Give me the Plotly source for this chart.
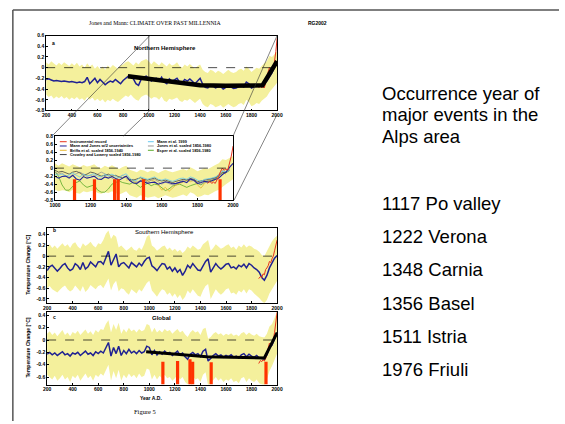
import plotly.graph_objects as go

W, H = 565, 424

# ---------------- data ----------------
years = list(range(200, 2001, 20))  # 91 points, 20-year steps

nh_mj = [
    -0.22, -0.21, -0.23, -0.25, -0.24, -0.25, -0.26, -0.25, -0.26, -0.27,
    -0.26, -0.27, -0.28, -0.27, -0.28, -0.26, -0.18, -0.30, -0.24, -0.20,
    -0.28, -0.22, -0.27, -0.32, -0.28, -0.25, -0.27, -0.22, -0.26, -0.30,
    -0.24, -0.19, -0.16, -0.15, -0.21, -0.30, -0.33, -0.22, -0.18, -0.16,
    -0.20, -0.25, -0.21, -0.20, -0.25, -0.18, -0.27, -0.30, -0.21, -0.25,
    -0.23, -0.20, -0.27, -0.28, -0.22, -0.25, -0.21, -0.26, -0.30, -0.25,
    -0.20, -0.31, -0.37, -0.38, -0.32, -0.34, -0.38, -0.36, -0.35, -0.40,
    -0.37, -0.34, -0.36, -0.39, -0.38, -0.35, -0.33, -0.36, -0.27, -0.30,
    -0.38, -0.36, -0.33, -0.35, -0.31, -0.28, -0.25, -0.16, -0.10, 0.02,
    0.12]
nh_up = [
    0.10, 0.06, 0.12, 0.08, 0.04, 0.09, 0.05, 0.10, 0.06, 0.03,
    0.08, 0.04, 0.09, 0.02, 0.06, 0.00, 0.08, 0.02, 0.06, -0.02,
    0.03, -0.03, 0.02, -0.04, 0.04, 0.00, 0.05, 0.02, -0.02, 0.04,
    0.06, 0.10, 0.12, 0.08, 0.04, 0.10, 0.06, 0.12, 0.14, 0.16,
    0.12, 0.06, 0.12, 0.08, 0.04, 0.10, 0.05, 0.02, 0.08, 0.04,
    0.06, 0.10, 0.03, 0.00, 0.06, 0.02, 0.07, 0.02, -0.02, 0.03,
    0.06, -0.04, -0.08, -0.10, -0.04, -0.06, -0.10, -0.06, -0.08, -0.12,
    -0.08, -0.04, -0.08, -0.10, -0.08, -0.04, -0.02, -0.06, 0.02, -0.02,
    -0.08, -0.04, 0.00, -0.02, 0.04, 0.08, 0.12, 0.22, 0.20, 0.26,
    0.30]
nh_low = [
    -0.50, -0.55, -0.52, -0.58, -0.54, -0.57, -0.53, -0.58, -0.55, -0.60,
    -0.56, -0.59, -0.55, -0.60, -0.57, -0.62, -0.55, -0.60, -0.56, -0.62,
    -0.58, -0.63, -0.59, -0.65, -0.60, -0.63, -0.58, -0.62, -0.64, -0.60,
    -0.56, -0.52, -0.55, -0.50, -0.56, -0.60, -0.62, -0.55, -0.52, -0.50,
    -0.54, -0.58, -0.55, -0.56, -0.60, -0.54, -0.62, -0.64, -0.58, -0.60,
    -0.58, -0.56, -0.62, -0.64, -0.60, -0.62, -0.58, -0.62, -0.66, -0.62,
    -0.58, -0.68, -0.72, -0.74, -0.68, -0.70, -0.74, -0.72, -0.70, -0.75,
    -0.72, -0.68, -0.71, -0.74, -0.72, -0.68, -0.66, -0.70, -0.60, -0.64,
    -0.72, -0.70, -0.66, -0.68, -0.62, -0.58, -0.54, -0.46, -0.40, -0.34,
    -0.28]
nh_trend_years = [837, 1000, 1200, 1400, 1600, 1886, 2000]
nh_trend_vals = [-0.16, -0.21, -0.28, -0.33, -0.34, -0.33, 0.12]

instr_years = [1856, 1870, 1880, 1890, 1900, 1910, 1920, 1930, 1940, 1950, 1960, 1970, 1980, 1990, 2000]
nh_instr = [-0.38, -0.33, -0.38, -0.35, -0.38, -0.30, -0.20, -0.08, 0.00, -0.05, -0.02, -0.05, 0.10, 0.30, 0.55]
sh_instr = [-0.42, -0.38, -0.40, -0.33, -0.35, -0.25, -0.22, -0.18, -0.10, -0.12, -0.05, 0.00, 0.10, 0.20, 0.30]
gl_instr = [-0.38, -0.33, -0.35, -0.32, -0.34, -0.30, -0.22, -0.15, -0.05, -0.08, -0.05, 0.00, 0.12, 0.28, 0.45]

inset_years = years[40:]          # 1000..2000
inset_years_80 = years[40:90]     # 1000..1980
mann99 = [
    -0.15, -0.18, -0.15, -0.20, -0.17, -0.12, -0.18, -0.22, -0.15, -0.20,
    -0.17, -0.14, -0.20, -0.22, -0.16, -0.19, -0.15, -0.20, -0.25, -0.18,
    -0.14, -0.25, -0.32, -0.30, -0.22, -0.25, -0.28, -0.25, -0.22, -0.28,
    -0.30, -0.27, -0.30, -0.33, -0.30, -0.26, -0.25, -0.28, -0.22, -0.25,
    -0.30, -0.33, -0.28, -0.27, -0.25, -0.22, -0.18, -0.08, -0.10, -0.05]
jones98 = [
    -0.10, -0.15, -0.12, -0.20, -0.22, -0.18, -0.12, -0.10, -0.15, -0.20,
    -0.18, -0.22, -0.15, -0.10, -0.14, -0.20, -0.25, -0.30, -0.22, -0.18,
    -0.25, -0.30, -0.28, -0.35, -0.32, -0.30, -0.35, -0.30, -0.28, -0.34,
    -0.40, -0.35, -0.38, -0.42, -0.40, -0.35, -0.30, -0.28, -0.30, -0.32,
    -0.38, -0.40, -0.35, -0.30, -0.28, -0.25, -0.15, -0.05, -0.10, 0.00]
crowley = [
    -0.05, -0.10, -0.08, -0.12, -0.15, -0.10, -0.08, -0.12, -0.18, -0.15,
    -0.10, -0.12, -0.16, -0.20, -0.18, -0.15, -0.20, -0.18, -0.22, -0.25,
    -0.20, -0.28, -0.30, -0.26, -0.24, -0.28, -0.30, -0.27, -0.25, -0.30,
    -0.32, -0.30, -0.34, -0.36, -0.33, -0.30, -0.28, -0.30, -0.26, -0.28,
    -0.34, -0.32, -0.30, -0.28, -0.26, -0.24, -0.18, -0.10, -0.12, -0.05]
esper = [
    -0.08, -0.20, -0.42, -0.55, -0.55, -0.45, -0.36, -0.32, -0.42, -0.48,
    -0.45, -0.42, -0.55, -0.60, -0.60, -0.52, -0.40, -0.35, -0.32, -0.36,
    -0.38, -0.40, -0.35, -0.42, -0.48, -0.42, -0.38, -0.44, -0.40, -0.42,
    -0.50, -0.56, -0.52, -0.45, -0.42, -0.40, -0.44, -0.48, -0.44, -0.40,
    -0.38, -0.42, -0.35, -0.32, -0.30, -0.26, -0.20, -0.12, -0.10, -0.05]
briffa_years = years[60:89]       # 1400..1960
briffa = [
    -0.30, -0.28, -0.32, -0.38, -0.30, -0.28, -0.35, -0.30, -0.33, -0.42,
    -0.55, -0.48, -0.58, -0.50, -0.42, -0.38, -0.35, -0.30, -0.34, -0.30,
    -0.42, -0.50, -0.38, -0.32, -0.34, -0.30, -0.20, -0.10, -0.15]

inset_bar_years = [1110, 1222, 1335, 1355, 1497, 1927]
inset_bar_tops = [-0.28, -0.28, -0.28, -0.28, -0.28, -0.28]

sh_mj = [
    -0.27, -0.20, -0.17, -0.23, -0.28, -0.23, -0.17, -0.14, -0.22, -0.27,
    -0.24, -0.14, -0.18, -0.25, -0.12, -0.24, -0.20, -0.11, -0.16, -0.20,
    -0.11, -0.10, -0.15, -0.02, 0.09, -0.17, -0.05, 0.04, -0.20, -0.14,
    -0.12, -0.18, -0.22, -0.12, -0.16, -0.20, -0.13, -0.18, -0.10, -0.04,
    -0.02, -0.18, -0.22, -0.27, -0.20, -0.14, -0.15, -0.24, -0.20, -0.28,
    -0.22, -0.30, -0.25, -0.36, -0.28, -0.17, -0.22, -0.14, -0.20, -0.26,
    -0.27, -0.17, -0.10, -0.05, -0.30, -0.22, -0.14, -0.20, -0.24, -0.20,
    -0.15, -0.14, -0.22, -0.20, -0.24, -0.17, -0.20, -0.15, -0.22, -0.14,
    -0.17, -0.22, -0.25, -0.30, -0.40, -0.45, -0.36, -0.22, -0.12, -0.04,
    0.01]
sh_up = [
    0.17, 0.22, 0.15, 0.20, 0.14, 0.19, 0.24, 0.18, 0.22, 0.15,
    0.23, 0.26, 0.18, 0.14, 0.24, 0.19, 0.22, 0.27, 0.20, 0.16,
    0.24, 0.22, 0.30, 0.42, 0.48, 0.32, 0.40, 0.36, 0.16, 0.20,
    0.15, 0.10, 0.14, 0.18, 0.12, 0.10, 0.16, 0.12, 0.22, 0.36,
    0.40, 0.20, 0.16, 0.10, 0.14, 0.18, 0.20, 0.12, 0.16, 0.10,
    0.14, 0.08, 0.12, 0.06, 0.10, 0.18, 0.14, 0.20, 0.16, 0.12,
    0.14, 0.22, 0.26, 0.30, 0.10, 0.15, 0.22, 0.18, 0.14, 0.16,
    0.20, 0.22, 0.15, 0.18, 0.12, 0.20, 0.16, 0.22, 0.16, 0.20,
    0.18, 0.14, 0.12, 0.08, 0.02, 0.00, 0.10, 0.20, 0.28, 0.34,
    0.38]
sh_low = [
    -0.60, -0.56, -0.62, -0.65, -0.68, -0.63, -0.58, -0.55, -0.62, -0.66,
    -0.63, -0.55, -0.60, -0.66, -0.56, -0.67, -0.62, -0.54, -0.58, -0.62,
    -0.56, -0.54, -0.60, -0.50, -0.42, -0.64, -0.52, -0.46, -0.66, -0.60,
    -0.62, -0.68, -0.72, -0.62, -0.66, -0.70, -0.62, -0.66, -0.58, -0.50,
    -0.46, -0.64, -0.70, -0.76, -0.68, -0.62, -0.64, -0.72, -0.68, -0.76,
    -0.70, -0.78, -0.72, -0.82, -0.76, -0.64, -0.70, -0.62, -0.68, -0.74,
    -0.76, -0.64, -0.56, -0.52, -0.80, -0.72, -0.62, -0.68, -0.72, -0.68,
    -0.62, -0.60, -0.70, -0.68, -0.72, -0.64, -0.68, -0.62, -0.70, -0.62,
    -0.64, -0.70, -0.74, -0.78, -0.84, -0.88, -0.82, -0.70, -0.62, -0.54,
    -0.46]

gl_mj = [
    -0.23, -0.20, -0.24, -0.21, -0.25, -0.22, -0.19, -0.24, -0.22, -0.26,
    -0.21, -0.23, -0.20, -0.25, -0.22, -0.18, -0.23, -0.21, -0.25, -0.19,
    -0.22, -0.18, -0.21, -0.12, -0.04, -0.26, -0.12, -0.22, -0.10, -0.25,
    -0.17, -0.22, -0.15, -0.21, -0.18, -0.22, -0.17, -0.21, -0.19, -0.10,
    -0.12, -0.24, -0.17, -0.24, -0.19, -0.23, -0.18, -0.22, -0.20, -0.25,
    -0.22, -0.18, -0.24, -0.21, -0.27, -0.31, -0.23, -0.20, -0.24, -0.22,
    -0.27, -0.18, -0.15, -0.34, -0.30, -0.25, -0.22, -0.26, -0.24, -0.28,
    -0.25, -0.27, -0.24, -0.28, -0.26, -0.29, -0.24, -0.22, -0.27, -0.23,
    -0.26, -0.28, -0.25, -0.29, -0.30, -0.31, -0.24, -0.12, -0.08, 0.02,
    0.12]
gl_up = [
    0.10, 0.14, 0.08, 0.12, 0.06, 0.12, 0.16, 0.08, 0.12, 0.06,
    0.13, 0.10, 0.15, 0.08, 0.12, 0.17, 0.10, 0.14, 0.08, 0.16,
    0.12, 0.18, 0.16, 0.26, 0.32, 0.12, 0.26, 0.16, 0.28, 0.10,
    0.18, 0.12, 0.20, 0.14, 0.17, 0.12, 0.18, 0.14, 0.16, 0.26,
    0.24, 0.12, 0.20, 0.12, 0.16, 0.12, 0.18, 0.14, 0.16, 0.10,
    0.14, 0.18, 0.12, 0.15, 0.09, 0.05, 0.12, 0.16, 0.12, 0.14,
    0.08, 0.18, 0.20, 0.02, 0.05, 0.10, 0.13, 0.09, 0.11, 0.07,
    0.10, 0.08, 0.11, 0.07, 0.09, 0.06, 0.11, 0.13, 0.08, 0.12,
    0.09, 0.07, 0.10, 0.06, 0.05, 0.04, 0.10, 0.22, 0.26, 0.36,
    0.46]
gl_low = [
    -0.56, -0.60, -0.64, -0.58, -0.66, -0.62, -0.56, -0.64, -0.60, -0.68,
    -0.58, -0.62, -0.56, -0.66, -0.60, -0.54, -0.62, -0.58, -0.66, -0.56,
    -0.60, -0.54, -0.58, -0.48, -0.40, -0.66, -0.50, -0.62, -0.48, -0.66,
    -0.56, -0.62, -0.54, -0.60, -0.56, -0.62, -0.54, -0.60, -0.58, -0.46,
    -0.48, -0.64, -0.56, -0.64, -0.58, -0.62, -0.56, -0.62, -0.60, -0.66,
    -0.62, -0.56, -0.64, -0.60, -0.68, -0.72, -0.64, -0.58, -0.64, -0.62,
    -0.68, -0.56, -0.52, -0.74, -0.70, -0.64, -0.60, -0.66, -0.62, -0.68,
    -0.64, -0.66, -0.62, -0.68, -0.66, -0.70, -0.62, -0.60, -0.68, -0.62,
    -0.66, -0.68, -0.64, -0.70, -0.72, -0.74, -0.64, -0.50, -0.42, -0.32,
    -0.22]
gl_trend_years = [975, 1450, 1900, 2000]
gl_trend_vals = [-0.19, -0.27, -0.29, 0.12]
gl_bar_years = [1106, 1221, 1318, 1339, 1484, 1913]
gl_bar_tops = [-0.35, -0.34, -0.31, -0.35, -0.36, -0.35]

x_ticks_full = [200, 400, 600, 800, 1000, 1200, 1400, 1600, 1800, 2000]
x_ticks_inset = [1000, 1200, 1400, 1600, 1800, 2000]
y_ticks_a = [0.6, 0.4, 0.2, 0, -0.2, -0.4, -0.6, -0.8]
y_text_a = ["0.6", "0.4", "0.2", "0", "-0.2", "-0.4", "-0.6", "-0.8"]
y_ticks_i = [0.8, 0.6, 0.4, 0.2, 0, -0.2, -0.4, -0.6, -0.8]
y_text_i = ["0.8", "0.6", "0.4", "0.2", "0", "-0.2", "-0.4", "-0.6", "-0.8"]
y_ticks_b = [0.4, 0.2, 0, -0.2, -0.4, -0.6, -0.8]
y_text_b = ["0.4", "0.2", "0", "-0.2", "-0.4", "-0.6", "-0.8"]
y_ticks_c = [0.4, 0.2, 0, -0.2, -0.4, -0.6]
y_text_c = ["0.4", "0.2", "0", "-0.2", "-0.4", "-0.6"]

legend_left = [("Instrumental record", "#e8341c"),
               ("Mann and Jones w/2 uncertainties", "#222299"),
               ("Briffa et al. scaled 1856-1940", "#e8b830"),
               ("Crowley and Lowery scaled 1856-1980", "#444444")]
legend_right = [("Mann et al. 1999", "#66c8f0"),
                ("Jones et al. scaled 1856-1980", "#999999"),
                ("Esper et al. scaled 1856-1980", "#5aaa2a")]

events_title = ["Occurrence year of", "major events in the", "Alps area"]
events = ["1117 Po valley", "1222 Verona", "1348 Carnia", "1356 Basel", "1511 Istria", "1976 Friuli"]

# ---------------- styles ----------------
BAND = "#f4f09c"
BLUE = "#1f2192"
RED = "#e8341c"
BAR = "#ff3300"
SANS = "Liberation Sans"
SERIF = "Liberation Serif"


def px(x):
    return x / W


def py(y):
    return 1 - y / H


fig = go.Figure()


def band(xs, lo, hi, xa, ya):
    fig.add_trace(go.Scatter(x=xs, y=lo, mode="lines", line=dict(width=0, color=BAND),
                             xaxis=xa, yaxis=ya, hoverinfo="skip"))
    fig.add_trace(go.Scatter(x=xs, y=hi, mode="lines", line=dict(width=0, color=BAND),
                             fill="tonexty", fillcolor=BAND,
                             xaxis=xa, yaxis=ya, hoverinfo="skip"))


def line(xs, ys, xa, ya, color, width):
    fig.add_trace(go.Scatter(x=xs, y=ys, mode="lines", line=dict(color=color, width=width),
                             xaxis=xa, yaxis=ya, hoverinfo="skip"))


def bars(xs, tops, bottom, width, xa, ya):
    fig.add_trace(go.Bar(x=xs, y=[t - bottom for t in tops], base=[bottom] * len(xs),
                         width=[width] * len(xs), marker=dict(color=BAR, line=dict(width=0)),
                         xaxis=xa, yaxis=ya, hoverinfo="skip"))


# panel a
band(years, nh_low, nh_up, "x", "y")
line(years, nh_mj, "x", "y", BLUE, 1.5)
line(instr_years, nh_instr, "x", "y", RED, 1.0)
line(nh_trend_years, nh_trend_vals, "x", "y", "black", 4.5)

# inset
band(inset_years, nh_low[40:], nh_up[40:], "x2", "y2")
line(inset_years_80, esper, "x2", "y2", "#5aaa2a", 0.8)
line(briffa_years, briffa, "x2", "y2", "#e8b830", 0.8)
line(inset_years_80, jones98, "x2", "y2", "#999999", 0.8)
line(inset_years_80, crowley, "x2", "y2", "#444444", 0.8)
line(inset_years_80, mann99, "x2", "y2", "#66c8f0", 0.8)
line(inset_years, nh_mj[40:], "x2", "y2", "#222299", 1.1)
line(instr_years, nh_instr, "x2", "y2", RED, 1.0)
bars(inset_bar_years, inset_bar_tops, -0.8, 18, "x2", "y5")

# panel b
band(years, sh_low, sh_up, "x3", "y3")
line(years, sh_mj, "x3", "y3", BLUE, 1.5)
line(instr_years, sh_instr, "x3", "y3", RED, 1.0)

# panel c
band(years, gl_low, gl_up, "x4", "y4")
line(years, gl_mj, "x4", "y4", BLUE, 1.5)
line(instr_years, gl_instr, "x4", "y4", RED, 1.0)
line(gl_trend_years, gl_trend_vals, "x4", "y4", "black", 3)
bars(gl_bar_years, gl_bar_tops, -0.72, 25, "x4", "y6")


def xax(dom, rng, ticks, anchor):
    return dict(domain=[px(dom[0]), px(dom[1])], range=rng, tickvals=ticks,
                ticktext=[str(t) for t in ticks], anchor=anchor,
                showline=True, linecolor="black", linewidth=0.8, mirror=True,
                ticks="inside", ticklen=2, tickwidth=0.6, tickcolor="black",
                showgrid=False, zeroline=False,
                tickfont=dict(family=SANS, size=5, color="black", weight="bold"))


def yax(dom, rng, ticks, texts, anchor):
    return dict(domain=[py(dom[1]), py(dom[0])], range=rng, tickvals=ticks, ticktext=texts,
                anchor=anchor, showline=True, linecolor="black", linewidth=0.8, mirror=True,
                ticks="inside", ticklen=2, tickwidth=0.6, tickcolor="black",
                showgrid=False, zeroline=False,
                tickfont=dict(family=SANS, size=5, color="black", weight="bold"))


def overlay_y(base, rng, anchor):
    return dict(overlaying=base, range=rng, anchor=anchor, visible=False,
                showgrid=False, zeroline=False)


layout = dict(
    width=W, height=H, margin=dict(l=0, r=0, t=0, b=0),
    paper_bgcolor="white", plot_bgcolor="white", showlegend=False,
    barmode="overlay", hovermode=False,
    xaxis=xax((41, 277), [200, 2000], x_ticks_full, "y"),
    yaxis=yax((33, 109), [-0.8, 0.6], y_ticks_a, y_text_a, "x"),
    xaxis2=xax((50, 232), [1000, 2000], x_ticks_inset, "y2"),
    yaxis2=yax((135, 200), [-0.8, 0.8], y_ticks_i, y_text_i, "x2"),
    xaxis3=xax((42, 277), [200, 2000], x_ticks_full, "y3"),
    yaxis3=yax((228, 304), [-0.87, 0.53], y_ticks_b, y_text_b, "x3"),
    xaxis4=xax((42, 277), [200, 2000], x_ticks_full, "y4"),
    yaxis4=yax((313, 387), [-0.72, 0.46], y_ticks_c, y_text_c, "x4"),
    yaxis5=overlay_y("y2", [-0.8, 0.8], "x2"),
    yaxis6=overlay_y("y4", [-0.72, 0.46], "x4"),
)
fig.update_layout(**layout)

shapes = []
# dashed zero lines
for xa, ya in [("x", "y"), ("x2", "y2"), ("x3", "y3"), ("x4", "y4")]:
    shapes.append(dict(type="line", xref=xa + " domain", x0=0, x1=1,
                       yref=ya, y0=0, y1=0,
                       line=dict(color="black", width=0.7, dash="dash")))
# vertical guide in panel a at 1000
shapes.append(dict(type="line", xref="x", x0=1000, x1=1000, yref="y domain", y0=0, y1=1,
                   line=dict(color="black", width=0.6)))
# zoom guide lines (pixel positions)
for (x0, y0, x1, y1) in [(147, 33, 48, 134), (147, 109, 120, 135),
                         (277, 33, 232, 135), (277, 113, 233, 200)]:
    shapes.append(dict(type="line", xref="paper", yref="paper",
                       x0=px(x0), y0=py(y0), x1=px(x1), y1=py(y1),
                       line=dict(color="#333333", width=0.6)))
# slide frame
shapes.append(dict(type="line", xref="paper", yref="paper", x0=px(7), x1=1, y0=py(7), y1=py(7),
                   line=dict(color="#555555", width=1.5)))
shapes.append(dict(type="line", xref="paper", yref="paper", x0=px(7), x1=px(7), y0=py(7), y1=0,
                   line=dict(color="#555555", width=1.5)))

annotations = []


def ann(text, x, y, size, family=SANS, bold=False, xanchor="center", color="black", angle=0):
    annotations.append(dict(text=text, x=px(x), y=py(y), xref="paper", yref="paper",
                            xanchor=xanchor, yanchor="middle", showarrow=False, textangle=angle,
                            font=dict(family=family, size=size, color=color,
                                      weight="bold" if bold else "normal")))


# inset legend
for i, (lab, col) in enumerate(legend_left):
    yy = 140.7 + i * 4.35
    shapes.append(dict(type="line", xref="paper", yref="paper", x0=px(55), x1=px(62),
                       y0=py(yy), y1=py(yy), line=dict(color=col, width=1)))
    ann(lab, 63.5, yy, 3.9, bold=True, xanchor="left")
for i, (lab, col) in enumerate(legend_right):
    yy = 140.7 + i * 4.35
    shapes.append(dict(type="line", xref="paper", yref="paper", x0=px(145), x1=px(151),
                       y0=py(yy), y1=py(yy), line=dict(color=col, width=1)))
    ann(lab, 152.5, yy, 3.9, bold=True, xanchor="left")

ann("Jones and Mann: CLIMATE OVER PAST MILLENNIA", 153, 20, 5.8, family=SERIF)
ann("RG2002", 318, 20, 5, bold=True)
ann("Northern Hemisphere", 162, 46, 6, bold=True)
ann("Southern Hemisphere", 162, 232, 6)
ann("Global", 159, 320, 6, bold=True)
ann("a", 49, 41, 5, bold=True)
ann("b", 50, 230, 5, bold=True)
ann("c", 50, 318, 5, bold=True)
ann("Temperature Change [°C]", 23, 266, 5, bold=True, angle=-90)
ann("Temperature Change [°C]", 23, 350, 5, bold=True, angle=-90)
ann("Year A.D.", 148, 401, 5, bold=True)
ann("Figure 5", 142, 414, 6.5, family=SERIF)

for i, t in enumerate(events_title):
    ann(t, 382, 92 + i * 21.6, 18.5, xanchor="left")
for i, t in enumerate(events):
    ann(t, 382, 203 + i * 33.8, 18.5, xanchor="left")

fig.update_layout(shapes=shapes, annotations=annotations)
fig.write_html("out.html")
